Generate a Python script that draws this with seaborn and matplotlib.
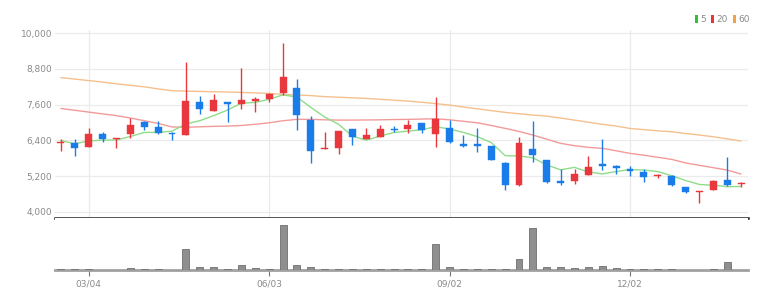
import numpy as np
import pandas as pd
import matplotlib
matplotlib.use("Agg")
import matplotlib.pyplot as plt
from matplotlib.patches import Patch
import seaborn as sns

# ---------------- data (weekly candles) ----------------
first_week = "2024-02-19"
n_weeks = 50
tick_labels = ["03/04", "06/03", "09/02", "12/02"]

open_ = [6300, 6304, 6181, 6629, 6438, 6606, 7021, 6842, 6629, 6573,
         7693, 7390, 7693, 7626, 7726, 7782, 8006, 8152, 7088, 6114,
         6147, 6797, 6461, 6528, 6797, 6786, 6976, 6606, 6830, 6282,
         6293, 6214, 5632, 4893, 6125, 5733, 5038, 5027, 5240, 5610,
         5542, 5430, 5341, 5195, 5184, 4826, 4646, 4736, 5050, 4926]
close = [6338, 6136, 6618, 6438, 6494, 6920, 6853, 6640, 6606, 7738,
         7446, 7749, 7626, 7771, 7782, 7950, 8522, 7245, 6046, 6158,
         6730, 6506, 6573, 6774, 6763, 6920, 6752, 7110, 6349, 6203,
         6226, 5744, 4893, 6304, 5901, 4982, 4971, 5274, 5509, 5542,
         5453, 5363, 5173, 5229, 4882, 4646, 4691, 5016, 4904, 4960]
high = [6450, 6438, 6808, 6685, 6494, 7166, 7043, 7066, 6696, 9026,
        7883, 7962, 7693, 8824, 7872, 7984, 9664, 8466, 7222, 6674,
        6730, 6797, 6830, 6909, 6886, 7077, 6976, 7872, 7088, 6584,
        6830, 6214, 5666, 6528, 7066, 5733, 5430, 5430, 5890, 6438,
        5576, 5542, 5430, 5274, 5229, 4826, 4702, 5072, 5856, 4982]
low = [6058, 5878, 6181, 6338, 6136, 6472, 6741, 6618, 6416, 6573,
       7290, 7390, 7010, 7446, 7368, 7704, 7928, 6752, 5632, 6114,
       5946, 6248, 6461, 6528, 6674, 6640, 6662, 6192, 6304, 6192,
       6002, 5722, 4714, 4870, 5666, 4960, 4893, 4938, 5240, 5408,
       5262, 5184, 5005, 5139, 4859, 4624, 4288, 4714, 4870, 4814]

ma5 = [6394, 6282, 6382, 6405, 6410, 6530, 6665, 6670, 6710, 6950,
       7060, 7230, 7420, 7650, 7675, 7780, 7930, 7855, 7510, 7185,
       6940, 6540, 6405, 6545, 6665, 6710, 6755, 6860, 6780, 6665,
       6525, 6325, 5885, 5875, 5815, 5570, 5410, 5490, 5340, 5270,
       5350, 5420, 5400, 5350, 5210, 5050, 4915, 4890, 4840, 4850]
ma20 = [7470, 7410, 7350, 7290, 7230, 7150, 7060, 6970, 6850, 6840,
        6855, 6870, 6880, 6900, 6940, 6990, 7060, 7105, 7105, 7090,
        7081, 7081, 7085, 7090, 7100, 7105, 7115, 7125, 7090, 7040,
        6990, 6900, 6802, 6700, 6577, 6440, 6298, 6220, 6164, 6130,
        6050, 5960, 5900, 5830, 5760, 5640, 5560, 5480, 5400, 5267]
ma60 = [8510, 8460, 8410, 8360, 8300, 8250, 8200, 8130, 8070, 8056,
        8045, 8035, 8025, 8010, 7995, 7978, 7945, 7925, 7905, 7870,
        7850, 7830, 7810, 7780, 7750, 7720, 7680, 7635, 7585, 7520,
        7460, 7400, 7340, 7295, 7250, 7215, 7150, 7080, 7010, 6940,
        6880, 6800, 6760, 6720, 6688, 6630, 6580, 6520, 6450, 6376]
volume = [8000, 8000, 8000, 0, 0, 20000, 8000, 8000, 0, 210000,
          27000, 27000, 8000, 52000, 25000, 8000, 450000, 50000, 27000, 8000,
          8000, 8000, 8000, 8000, 8000, 8000, 8000, 260000, 27000, 8000,
          15000, 8000, 8000, 110000, 417000, 27000, 27000, 17000, 27000, 43000,
          17000, 8000, 8000, 8000, 8000, 0, 0, 8000, 77000, 0]

price_ticks = [4000, 5200, 6400, 7600, 8800, 10000]

# ---------------- build frame ----------------
weeks = pd.date_range(first_week, periods=n_weeks, freq="7D")
df = pd.DataFrame({
    "idx": np.arange(n_weeks),
    "label": weeks.strftime("%m/%d"),
    "open": open_, "close": close, "high": high, "low": low,
    "ma5": ma5, "ma20": ma20, "ma60": ma60, "volume": volume,
})
df["up"] = df["close"] >= df["open"]

UP = "#e8383d"
DOWN = "#1a7ce8"
C5 = "#8fdc8a"
C20 = "#f29a9a"
C60 = "#f6c08e"
GRID = "#ebebeb"
TXT = "#8a8a8a"

sns.set_style("white")
plt.rcParams["font.family"] = ["Liberation Sans Narrow", "DejaVu Sans"]

W, H = 781, 303
fig = plt.figure(figsize=(W / 100, H / 100), dpi=100)

x0, x1 = 55, 748
ax = fig.add_axes([x0 / W, (H - 218) / H, (x1 - x0) / W, (218 - 30) / H])
axv = fig.add_axes([x0 / W, (H - 270) / H, (x1 - x0) / W, (270 - 218) / H], sharex=ax)

# moving averages
sns.lineplot(data=df, x="idx", y="ma60", ax=ax, color=C60, lw=1.0, zorder=2)
sns.lineplot(data=df, x="idx", y="ma20", ax=ax, color=C20, lw=1.0, zorder=2)
sns.lineplot(data=df, x="idx", y="ma5", ax=ax, color=C5, lw=1.0, zorder=2)

# candles
colors = np.where(df["up"], UP, DOWN)
ax.vlines(df["idx"], df["low"], df["high"], colors=colors, lw=1.0, zorder=3)
body_lo = np.minimum(df["open"], df["close"])
body_h = np.maximum(np.abs(df["close"] - df["open"]), 35)
ax.bar(df["idx"], body_h, bottom=body_lo, width=0.5, color=colors,
       edgecolor=colors, lw=0.3, zorder=4)

# volume
sns.barplot(data=df, x="idx", y="volume", native_scale=True, ax=axv,
            color="#8f8f8f", edgecolor="#6f6f6f", linewidth=0.6,
            width=0.5, saturation=1, zorder=3)

# axes styling
ax.set_xlim(-0.43, n_weeks - 0.5)
ax.set_ylim(3788, 10111)
axv.set_ylim(0, 520000)

tick_pos = [int(i) for i in df["idx"][df["label"].isin(tick_labels)]]
ax.set_xticks(tick_pos)
ax.set_yticks(price_ticks)
ax.set_yticklabels([f"{v:,}" for v in price_ticks])
ax.grid(True, color=GRID, lw=0.9, zorder=0)
ax.tick_params(axis="x", length=0, labelbottom=False, bottom=False, top=False)
ax.tick_params(axis="y", length=0, pad=2, labelsize=6.5, labelcolor=TXT,
               left=False, right=False)
ax.set_xlabel("")
ax.set_ylabel("")
for s in ["top", "left", "right"]:
    ax.spines[s].set_visible(False)
ax.spines["bottom"].set_color("#222222")
ax.spines["bottom"].set_linewidth(1.8)
ax.spines["bottom"].set_zorder(6)

axv.set_xticks(tick_pos)
axv.set_xticklabels(tick_labels)
axv.set_yticks([])
axv.grid(False)
axv.tick_params(axis="x", bottom=True, length=4, width=0.8, color="#7a7a7a",
                pad=3, labelsize=6.5, labelcolor=TXT)
axv.set_xlabel("")
axv.set_ylabel("")
for s in ["top", "left", "right"]:
    axv.spines[s].set_visible(False)
axv.spines["bottom"].set_color("#a0a0a0")
axv.spines["bottom"].set_linewidth(2)

handles = [Patch(facecolor="#2ec42e", edgecolor="none", label="5"),
           Patch(facecolor="#ee3333", edgecolor="none", label="20"),
           Patch(facecolor="#f5a040", edgecolor="none", label="60")]
fig.legend(handles=handles, loc="upper right",
           bbox_to_anchor=(750 / W, 1 - 15 / H), ncol=3, frameon=False,
           handlelength=0.4, handleheight=1.0, handletextpad=0.25,
           columnspacing=0.5, fontsize=6.5, labelcolor=TXT,
           borderpad=0, borderaxespad=0)

fig.savefig("out.png", dpi=100, facecolor="white")
